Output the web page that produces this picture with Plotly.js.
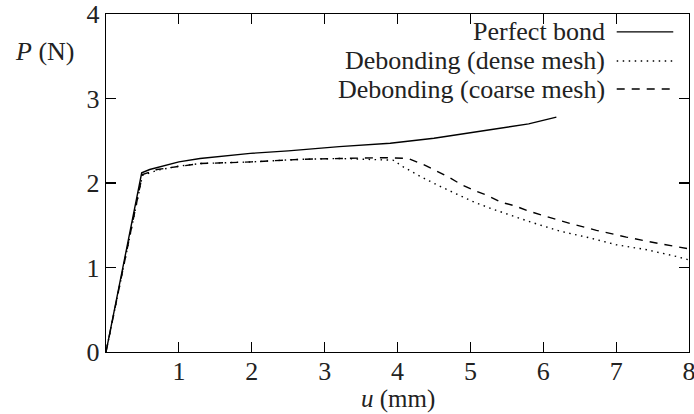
<!DOCTYPE html>
<html>
<head>
<meta charset="utf-8">
<script src="https://cdn.plot.ly/plotly-3.0.1.min.js"></script>
<style>html,body{margin:0;padding:0;background:#fff;}#chart{width:694px;height:414px;}</style>
</head>
<body>
<div id="chart"></div>
<script>
// Perfect bond (solid)
const perfectU = [0, 0.49, 0.6, 0.83, 1.0, 1.29, 1.6, 1.98, 2.5, 3.2, 3.9, 4.5, 5.27, 5.8, 6.18];
const perfectP = [0, 2.12, 2.16, 2.21, 2.25, 2.29, 2.32, 2.35, 2.38, 2.43, 2.47, 2.53, 2.63, 2.70, 2.78];
// Debonding (dense mesh), dotted
const denseU = [0, 0.5, 0.7, 1.0, 1.29, 2.0, 2.66, 3.2, 3.94, 4.08, 4.31, 4.56, 4.81, 5.06, 5.31, 5.57, 5.82, 6.23, 6.64, 7.0, 7.42, 7.83, 8.0];
const denseP = [0, 2.09, 2.15, 2.2, 2.23, 2.25, 2.28, 2.29, 2.27, 2.19, 2.08, 1.97, 1.87, 1.77, 1.69, 1.61, 1.54, 1.43, 1.35, 1.27, 1.21, 1.13, 1.09];
// Debonding (coarse mesh), dashed
const coarseU = [0, 0.5, 0.7, 1.0, 1.29, 2.0, 2.66, 3.2, 3.8, 4.15, 4.35, 4.54, 4.70, 4.88, 5.06, 5.24, 5.43, 5.61, 5.79, 5.98, 6.37, 6.73, 7.14, 7.55, 8.0];
const coarseP = [0, 2.1, 2.16, 2.2, 2.23, 2.25, 2.28, 2.29, 2.30, 2.29, 2.22, 2.14, 2.07, 1.98, 1.91, 1.85, 1.77, 1.73, 1.67, 1.62, 1.52, 1.44, 1.36, 1.29, 1.22];

const seriesNames = ['Perfect bond', 'Debonding (dense mesh)', 'Debonding (coarse mesh)'];
const xTicks = [1, 2, 3, 4, 5, 6, 7, 8];
const yTicks = [0, 1, 2, 3, 4];

const FONT = "'Liberation Serif', 'DejaVu Serif', serif";
const FS = 26;
const dashes = ['solid', '1.5px,4.5px', '8px,7px'];

const traces = [
  {x: perfectU, y: perfectP, mode: 'lines', line: {color: '#000', width: 1.4, dash: dashes[0]}, name: seriesNames[0]},
  {x: denseU, y: denseP, mode: 'lines', line: {color: '#000', width: 1.4, dash: dashes[1]}, name: seriesNames[1]},
  {x: coarseU, y: coarseP, mode: 'lines', line: {color: '#000', width: 1.4, dash: dashes[2]}, name: seriesNames[2]}
];

const legY = [0.947, 0.861, 0.778];
const annotations = [];
const shapes = [];
seriesNames.forEach((n, i) => {
  annotations.push({text: n, xref: 'paper', yref: 'paper', x: 0.859, y: legY[i], xanchor: 'right', yanchor: 'middle', showarrow: false, font: {family: FONT, size: FS, color: '#222'}});
  shapes.push({type: 'line', xref: 'paper', yref: 'paper', x0: 0.876, x1: 0.973, y0: legY[i], y1: legY[i], line: {color: '#000', width: 1.4, dash: dashes[i]}});
});
annotations.push({text: '<i>P</i> (N)', xref: 'paper', yref: 'paper', x: -0.105, y: 0.888, xanchor: 'center', yanchor: 'middle', showarrow: false, font: {family: FONT, size: FS, color: '#222'}});
annotations.push({text: '<i>u</i> (mm)', xref: 'x', yref: 'paper', x: 4, y: 0, xanchor: 'center', yanchor: 'bottom', yshift: -62, borderpad: 0, showarrow: false, font: {family: FONT, size: 25, color: '#222'}});

const axisCommon = {
  showgrid: false, zeroline: false, showline: true, linecolor: '#000', linewidth: 1.3,
  mirror: 'ticks', ticks: 'inside', ticklen: 10, tickwidth: 1.2, tickcolor: '#000',
  ticklabeloverflow: 'allow',
  tickfont: {family: FONT, size: FS, color: '#222'}, fixedrange: true
};

const layout = {
  width: 694, height: 414,
  margin: {l: 106, r: 5, t: 14, b: 62},
  paper_bgcolor: '#fff', plot_bgcolor: '#fff',
  showlegend: false,
  xaxis: Object.assign({}, axisCommon, {range: [0, 8], tickvals: xTicks, ticktext: xTicks.map(String), ticklabelstandoff: -5}),
  yaxis: Object.assign({}, axisCommon, {range: [0, 4], tickvals: yTicks, ticktext: yTicks.map(String)}),
  annotations: annotations,
  shapes: shapes
};

Plotly.newPlot('chart', traces, layout, {displayModeBar: false, staticPlot: true});
</script>
</body>
</html>
